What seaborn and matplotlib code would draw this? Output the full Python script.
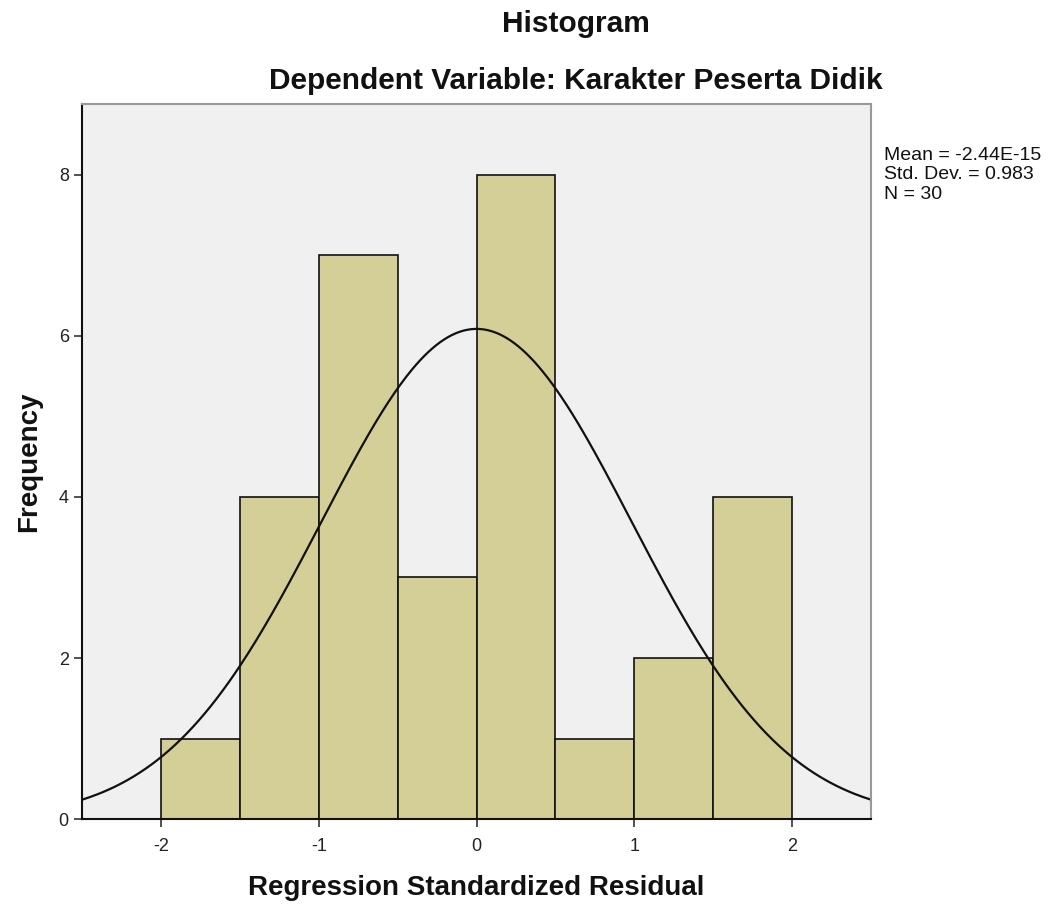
import numpy as np
import matplotlib
matplotlib.use("Agg")
import matplotlib.pyplot as plt
import seaborn as sns

# histogram data
bin_edges = [-2.0, -1.5, -1.0, -0.5, 0.0, 0.5, 1.0, 1.5, 2.0]
counts = [1, 4, 7, 3, 8, 1, 2, 4]
bin_centers = [-1.75, -1.25, -0.75, -0.25, 0.25, 0.75, 1.25, 1.75]
mean_val = -2.44e-15
std_val = 0.983
n_obs = 30
x_ticks = [-2, -1, 0, 1, 2]
y_ticks = [0, 2, 4, 6, 8]

sns.set_style("white")
plt.rcParams['font.family'] = ['Liberation Sans', 'DejaVu Sans']
plt.rcParams['text.color'] = '#111111'
plt.rcParams['axes.labelcolor'] = '#111111'

fig = plt.figure(figsize=(10.52, 9.05), dpi=100)
ax = fig.add_axes([0.078, 0.095, 0.75, 0.79])
ax.set_facecolor('#f0f0f0')

sns.histplot(x=bin_centers, weights=counts, bins=bin_edges, color='#d3cf97',
             edgecolor='#111111', linewidth=1.2, alpha=1, ax=ax)

# fitted normal curve scaled to counts
bw = bin_edges[1] - bin_edges[0]
xs = np.linspace(-2.5, 2.5, 400)
ys = n_obs * bw * np.exp(-0.5 * ((xs - mean_val) / std_val) ** 2) / (std_val * np.sqrt(2 * np.pi))
sns.lineplot(x=xs, y=ys, color='#111111', linewidth=1.6, ax=ax)

ax.set_xlim(-2.5, 2.5)
ax.set_ylim(0, 8.88)
ax.set_xticks(x_ticks)
ax.set_xticklabels([str(t) for t in x_ticks])
ax.set_yticks(y_ticks)
ax.tick_params(axis='both', direction='out', length=6, width=1.2, labelsize=13,
               color='#333333', labelcolor='#222222')
ax.tick_params(axis='x', pad=8)
ax.xaxis.set_ticks_position('bottom')
ax.yaxis.set_ticks_position('left')
for s in ['left', 'bottom']:
    ax.spines[s].set_color('#111111')
    ax.spines[s].set_linewidth(1.5)
for s in ['top', 'right']:
    ax.spines[s].set_color('#999999')
    ax.spines[s].set_linewidth(1.5)

ax.set_xlabel('Regression Standardized Residual', fontsize=20, fontweight='bold', labelpad=14)
ax.set_ylabel('Frequency', fontsize=20, fontweight='bold', labelpad=12)

fig.text(0.547, 0.973, 'Histogram', ha='center', va='center', fontsize=21.5, fontweight='bold')
fig.text(0.547, 0.910, 'Dependent Variable: Karakter Peserta Didik', ha='center', va='center',
         fontsize=21.5, fontweight='bold')

fig.text(0.840, 0.838, f'Mean = {mean_val:.2E}\nStd. Dev. = {std_val}\nN = {n_obs}',
         ha='left', va='top', fontsize=14, linespacing=1.2)

fig.savefig('out.png', dpi=100)
